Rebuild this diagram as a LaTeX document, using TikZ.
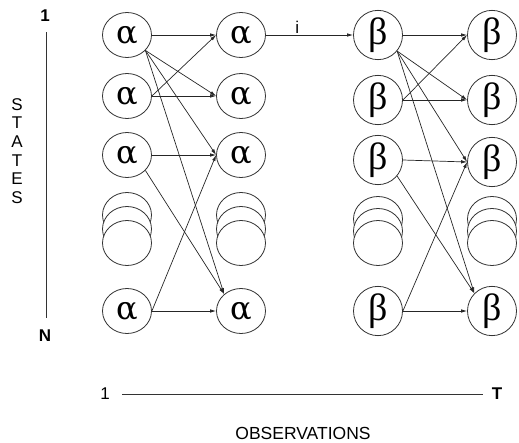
\documentclass[tikz,border=0pt]{standalone}
\usepackage{fontspec}
\setmainfont{Liberation Sans}
\newfontfamily\grk{Liberation Serif}
\newfontfamily\grka{DejaVu Serif}
\usetikzlibrary{shapes.geometric,arrows.meta}
\begin{document}
\begin{tikzpicture}[x=1pt,y=-1pt,
  st/.style={ellipse,draw=black!80,line width=0.8pt,fill=white,minimum width=49pt,minimum height=45pt,inner sep=0pt,font=\grk\fontsize{38}{38}\selectfont},
  sta/.style={st,font=\grka\fontsize{32}{32}\selectfont},
  arr/.style={draw=black!85,line width=0.7pt,-{Latex[length=6pt,width=3.5pt]}},
  lbl/.style={font=\fontsize{17}{17}\selectfont,inner sep=0pt},
  blbl/.style={lbl,font=\bfseries\fontsize{17}{17}\selectfont},
  axis/.style={draw=black!80,line width=0.8pt}
  ]
\useasboundingbox (0,0) rectangle (519,442);

% stacks (drawn back to front)
\foreach \cx/\nm in {127/sa,241/sb}{
  \node[st] (\nm1) at (\cx,215) {};
  \node[st] (\nm2) at (\cx,229) {};
  \node[st] (\nm3) at (\cx,243) {};
}
\foreach \cx/\nm in {378/sc,492/sd}{
  \node[st] (\nm1) at (\cx,219) {};
  \node[st] (\nm2) at (\cx,231) {};
  \node[st] (\nm3) at (\cx,243) {};
}

% alpha columns
\node[sta] (a1) at (127,35) {α};
\node[sta] (a2) at (127,96) {α};
\node[sta] (a3) at (127,155) {α};
\node[sta] (aN) at (127,311) {α};
\node[sta] (b1) at (241,35) {α};
\node[sta] (b2) at (241,96) {α};
\node[sta] (b3) at (241,155) {α};
\node[sta] (bN) at (241,311) {α};

% beta columns
\node[st] (c1) at (378,35) {β};
\node[st] (c2) at (378,100) {β};
\node[st] (c3) at (378,160) {β};
\node[st] (cN) at (378,311) {β};
\node[st] (d1) at (492,35) {β};
\node[st] (d2) at (492,100) {β};
\node[st] (d3) at (492,162) {β};
\node[st] (dN) at (492,311) {β};

% alpha transitions
\draw[arr] (a1.east) -- (b1.west);
\draw[arr] (a1.-40) -- (b2.west);
\draw[arr] (a1.-40) -- (b3.west);
\draw[arr] (a1.-40) -- (bN.135);
\draw[arr] (a2.east) -- (b1.west);
\draw[arr] (a2.east) -- (b2.west);
\draw[arr] (a3.east) -- (b3.west);
\draw[arr] (a3.-40) -- (bN.135);
\draw[arr] (aN.east) -- (b3.west);
\draw[arr] (aN.east) -- (bN.west);

% beta transitions
\draw[arr] (c1.east) -- (d1.west);
\draw[arr] (c1.-40) -- (d2.west);
\draw[arr] (c1.-40) -- (d3.west);
\draw[arr] (c1.-40) -- (dN.135);
\draw[arr] (c2.east) -- (d1.west);
\draw[arr] (c2.east) -- (d2.west);
\draw[arr] (c3.east) -- (d3.west);
\draw[arr] (c3.-40) -- (dN.135);
\draw[arr] (cN.east) -- (d3.west);
\draw[arr] (cN.east) -- (dN.west);

% middle link
\draw[arr] (b1.east) -- node[pos=0.36,above=1.5pt,lbl] (ilbl) {i} (c1.west);

% states axis
\node[blbl] (s1) at (45,16) {1};
\node[blbl] (sN) at (45,336) {N};
\coordinate (stop) at (46,32);
\coordinate (sbot) at (46,318);
\draw[axis] (stop) -- (sbot);
\node[lbl,font=\fontsize{17}{18.6}\selectfont,align=center] (states) at (17,151) {S\\T\\A\\T\\E\\S};

% observations axis
\node[lbl] (o1) at (105,394) {1};
\node[blbl] (oT) at (497,394) {T};
\coordinate (oleft) at (122,394);
\coordinate (oright) at (483,394);
\draw[axis] (oleft) -- (oright);
\node[lbl,font=\fontsize{17.5}{17.5}\selectfont] (obs) at (303,433) {OBSERVATIONS};
\end{tikzpicture}
\end{document}
